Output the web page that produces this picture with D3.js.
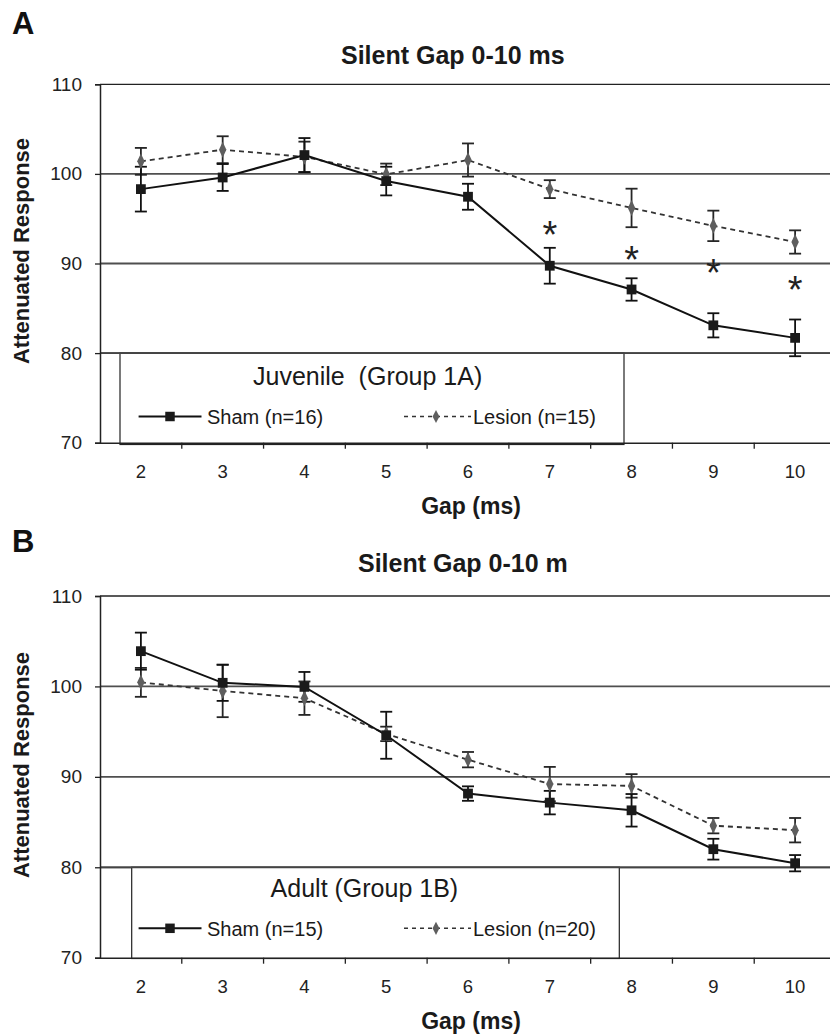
<!DOCTYPE html>
<html>
<head>
<meta charset="utf-8">
<script src="https://cdn.jsdelivr.net/npm/d3@7"></script>
<style>
  html, body { margin: 0; padding: 0; background: #fff; }
  svg { display: block; font-family: "Liberation Sans", Arial, sans-serif; }
  .pre { white-space: pre; }
</style>
</head>
<body>
<svg id="chart" width="830" height="1035"></svg>
<script>
// ---------- data ----------
const gaps = ["2", "3", "4", "5", "6", "7", "8", "9", "10"];
const yTicks = [70, 80, 90, 100, 110];

const shamA      = [98.3, 99.6, 102.1, 99.2, 97.45, 89.75, 87.1, 83.1, 81.7];
const shamAErr   = [2.5, 1.5, 1.9, 1.6, 1.45, 2.0, 1.25, 1.35, 2.05];
const lesionA    = [101.4, 102.7, 101.9, 99.95, 101.55, 98.3, 96.2, 94.2, 92.4];
const lesionAErr = [1.5, 1.5, 1.7, 1.2, 1.85, 1.0, 2.15, 1.7, 1.3];
const starGapsA  = ["7", "8", "9", "10"];
const starValsA  = [93.85, 91.05, 89.6, 87.7];

const shamB      = [103.9, 100.4, 99.95, 94.6, 88.15, 87.15, 86.3, 82.0, 80.45];
const shamBErr   = [2.05, 2.0, 1.65, 2.6, 0.8, 1.3, 1.8, 1.15, 0.9];
const lesionB    = [100.45, 99.5, 98.7, 94.75, 91.9, 89.2, 89.0, 84.6, 84.1];
const lesionBErr = [1.6, 2.9, 1.85, 0.8, 0.85, 1.9, 1.3, 0.85, 1.35];

const panelLetters = ["A", "B"];
const titles = ["Silent Gap 0-10 ms", "Silent Gap 0-10 m"];
const legendTitles = ["Juvenile  (Group 1A)", "Adult (Group 1B)"];
const shamLabels = ["Sham (n=16)", "Sham (n=15)"];
const lesionLabels = ["Lesion (n=15)", "Lesion (n=20)"];
const xTitle = "Gap (ms)";
const yTitle = "Attenuated Response";

// ---------- layout ----------
const svg = d3.select("#chart");
const panels = [
  { top: 84.3, bottom: 442.7, letterY: 34, titleX: 341, titleY: 64, yLabelY: 251,
    legend: { x0: 120, x1: 624, y1: 444.5, titleX: 253, titleY: 385, rowY: 416.5 },
    sham: shamA, shamErr: shamAErr, lesion: lesionA, lesionErr: lesionAErr,
    stars: starGapsA.map((g, i) => ({ g, v: starValsA[i] })) },
  { top: 596, bottom: 957.7, letterY: 552, titleX: 358, titleY: 572, yLabelY: 765,
    legend: { x0: 131.7, x1: 619.3, y1: 958.5, titleX: 270.6, titleY: 897, rowY: 928.3 },
    sham: shamB, shamErr: shamBErr, lesion: lesionB, lesionErr: lesionBErr,
    stars: [] }
];

const xLeft = 100, xRight = 836;
const lesionColor = "#5e5e5e";

panels.forEach((p, pi) => {
  const g = svg.append("g");
  const x = d3.scaleBand().domain(gaps).range([xLeft, xRight]).padding(0);
  const y = d3.scaleLinear().domain([70, 110]).range([p.bottom, p.top]);
  const cx = d => x(d) + x.bandwidth() / 2;

  // panel letter + title
  g.append("text").attr("x", 12).attr("y", p.letterY)
    .attr("font-size", 31).attr("font-weight", "bold").attr("fill", "#111").text(panelLetters[pi]);
  g.append("text").attr("x", p.titleX).attr("y", p.titleY)
    .attr("font-size", 25).attr("font-weight", "bold").attr("fill", "#1a1a1a").text(titles[pi]);

  // gridlines (gray) at inner ticks
  g.selectAll(".grid").data(yTicks.filter(t => t > 70 && t < 110)).enter().append("line")
    .attr("x1", xLeft).attr("x2", xRight)
    .attr("y1", d => y(d)).attr("y2", d => y(d))
    .attr("stroke", "#4f4f4f").attr("stroke-width", 1.8);
  // top border
  g.append("line").attr("x1", xLeft).attr("x2", xRight)
    .attr("y1", y(110)).attr("y2", y(110)).attr("stroke", "#222").attr("stroke-width", 1.3);

  // legend box
  const L = p.legend;
  g.append("rect").attr("x", L.x0).attr("y", y(80)).attr("width", L.x1 - L.x0)
    .attr("height", L.y1 - y(80)).attr("fill", "#fff").attr("stroke", "#222").attr("stroke-width", 1.2);
  // redraw gridline 80 on top of box
  g.append("line").attr("x1", xLeft).attr("x2", xRight)
    .attr("y1", y(80)).attr("y2", y(80)).attr("stroke", "#444").attr("stroke-width", 1.8);

  // axes
  const yAxis = d3.axisLeft(y).tickValues(yTicks).tickSize(5).tickPadding(13).tickFormat(d3.format("d"));
  const ya = g.append("g").attr("transform", `translate(${xLeft},0)`).call(yAxis);
  ya.select(".domain").attr("stroke", "#222").attr("stroke-width", 1.5);
  ya.selectAll(".tick line").attr("stroke", "#222").attr("stroke-width", 1.3);
  ya.selectAll(".tick text").attr("font-size", 19).attr("fill", "#222")
    .attr("font-family", "'Liberation Sans', Arial, sans-serif");

  const xAxis = d3.axisBottom(x).tickSize(0).tickPadding(22);
  const xa = g.append("g").attr("transform", `translate(0,${p.bottom})`).call(xAxis);
  xa.select(".domain").attr("stroke", "#222").attr("stroke-width", 1.6);
  xa.selectAll(".tick text").attr("font-size", 18.5).attr("fill", "#222")
    .attr("font-family", "'Liberation Sans', Arial, sans-serif");
  // category boundary ticks
  g.selectAll(".btick").data(gaps.slice(1)).enter().append("line")
    .attr("x1", d => x(d)).attr("x2", d => x(d))
    .attr("y1", p.bottom).attr("y2", p.bottom + 6)
    .attr("stroke", "#222").attr("stroke-width", 1.3);

  // axis titles
  g.append("text").attr("x", 471).attr("y", p.bottom + 71).attr("text-anchor", "middle")
    .attr("font-size", 23).attr("font-weight", "bold").attr("fill", "#1a1a1a").text(xTitle);
  g.append("text").attr("transform", `translate(29,${p.yLabelY}) rotate(-90)`)
    .attr("text-anchor", "middle").attr("font-size", 22).attr("font-weight", "bold")
    .attr("fill", "#1a1a1a").text(yTitle);

  // lines
  const line = d3.line().x((d, i) => cx(gaps[i])).y(d => y(d));
  g.append("path").datum(p.lesion).attr("d", line).attr("fill", "none")
    .attr("stroke", "#333").attr("stroke-width", 1.8).attr("stroke-dasharray", "5,4");
  g.append("path").datum(p.sham).attr("d", line).attr("fill", "none")
    .attr("stroke", "#111").attr("stroke-width", 2);

  // error bars
  function errBars(vals, errs, color) {
    const eb = g.append("g");
    vals.forEach((v, i) => {
      const xc = cx(gaps[i]);
      eb.append("line").attr("x1", xc).attr("x2", xc)
        .attr("y1", y(v - errs[i])).attr("y2", y(v + errs[i]))
        .attr("stroke", color).attr("stroke-width", 1.8);
      [v - errs[i], v + errs[i]].forEach(e => {
        eb.append("line").attr("x1", xc - 6).attr("x2", xc + 6)
          .attr("y1", y(e)).attr("y2", y(e)).attr("stroke", color).attr("stroke-width", 1.8);
      });
    });
  }
  errBars(p.lesion, p.lesionErr, "#262626");
  errBars(p.sham, p.shamErr, "#111");

  // markers
  const diamond = d3.symbol().type(d3.symbolDiamond).size(66);
  const square = d3.symbol().type(d3.symbolSquare).size(96);
  g.selectAll(".lm").data(p.lesion).enter().append("path")
    .attr("d", diamond).attr("transform", (d, i) => `translate(${cx(gaps[i])},${y(d)}) scale(0.85,1.05)`)
    .attr("fill", lesionColor);
  g.selectAll(".sm").data(p.sham).enter().append("path")
    .attr("d", square).attr("transform", (d, i) => `translate(${cx(gaps[i])},${y(d)})`)
    .attr("fill", "#1a1a1a");

  // significance asterisks
  g.selectAll(".star").data(p.stars).enter().append("text")
    .attr("x", d => cx(d.g)).attr("y", d => y(d.v) + 19)
    .attr("text-anchor", "middle").attr("font-size", 38).attr("fill", "#222").text("*");

  // legend content
  g.append("text").attr("class", "pre").attr("x", L.titleX).attr("y", L.titleY)
    .attr("font-size", 25).attr("fill", "#1a1a1a").text(legendTitles[pi]);
  g.append("line").attr("x1", 138.6).attr("x2", 201.5).attr("y1", L.rowY).attr("y2", L.rowY)
    .attr("stroke", "#111").attr("stroke-width", 2);
  g.append("path").attr("d", d3.symbol().type(d3.symbolSquare).size(90)())
    .attr("transform", `translate(170,${L.rowY})`).attr("fill", "#1a1a1a");
  g.append("text").attr("x", 207).attr("y", L.rowY + 7.5).attr("font-size", 20)
    .attr("fill", "#1a1a1a").text(shamLabels[pi]);
  g.append("line").attr("x1", 404).attr("x2", 471).attr("y1", L.rowY).attr("y2", L.rowY)
    .attr("stroke", "#333").attr("stroke-width", 1.5).attr("stroke-dasharray", "4,4");
  g.append("path").attr("d", d3.symbol().type(d3.symbolDiamond).size(50)())
    .attr("transform", `translate(436,${L.rowY}) scale(0.9,1)`).attr("fill", lesionColor);
  g.append("text").attr("x", 473).attr("y", L.rowY + 7.5).attr("font-size", 20)
    .attr("fill", "#1a1a1a").text(lesionLabels[pi]);
});
</script>
</body>
</html>
